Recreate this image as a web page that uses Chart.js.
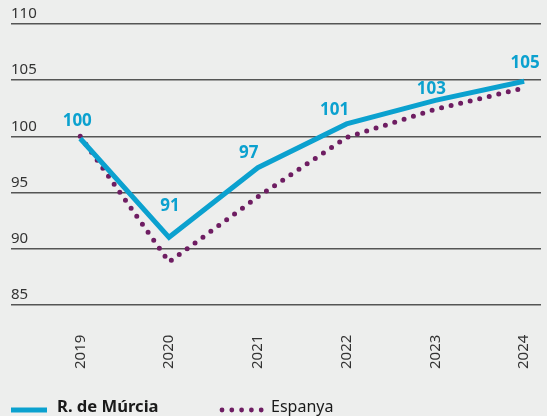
<!DOCTYPE html>
<html>
<head>
<meta charset="utf-8">
<script src="https://cdn.jsdelivr.net/npm/chart.js@4.4.1/dist/chart.umd.min.js"></script>
<style>
  html, body { margin: 0; padding: 0; background: #edeeed; }
  #wrap { position: relative; width: 547px; height: 416px; }
</style>
</head>
<body>
<div id="wrap"><canvas id="c" width="547" height="416"></canvas></div>
<script>
const years = [2019, 2020, 2021, 2022, 2023, 2024];
const murcia = [99.8, 91.0, 97.2, 101.1, 103.2, 104.9];
const espanya = [100.0, 88.8, 94.6, 99.9, 102.4, 104.3];
const murciaLabels = ['100', '91', '97', '101', '103', '105'];
const yTicks = [85, 90, 95, 100, 105, 110];

const BLUE = '#0ba1cf', PURPLE = '#6e1d62', FONT = '"Noto Sans", "Open Sans", sans-serif';

// where each value label sits relative to its point
const labelOffsets = [[-3, -17], [1, -31], [-9, -15], [-12, -14], [-4, -11], [1, -18]];

const valueLabels = {
  id: 'valueLabels',
  afterDatasetsDraw(chart) {
    const ctx = chart.ctx;
    const meta = chart.getDatasetMeta(0);
    ctx.save();
    ctx.font = 'bold 17px ' + FONT;
    ctx.fillStyle = BLUE;
    ctx.textAlign = 'center';
    ctx.textBaseline = 'middle';
    meta.data.forEach((pt, i) => {
      const [dx, dy] = labelOffsets[i];
      ctx.fillText(murciaLabels[i], pt.x + dx, pt.y + dy);
    });
    ctx.restore();
  }
};

const legendBar = {
  id: 'legendBar',
  afterDraw(chart) {
    const ctx = chart.ctx, y = 410;
    ctx.save();
    ctx.strokeStyle = BLUE; ctx.lineWidth = 5;
    ctx.beginPath(); ctx.moveTo(11, y); ctx.lineTo(47, y); ctx.stroke();
    ctx.fillStyle = '#1a1a1a'; ctx.textBaseline = 'middle';
    ctx.font = 'bold 16.6px ' + FONT;
    ctx.fillText('R. de Múrcia', 57, y - 3);
    ctx.fillStyle = PURPLE;
    for (let i = 0; i < 5; i++) { ctx.beginPath(); ctx.arc(222 + i * 9.8, y, 2.4, 0, Math.PI * 2); ctx.fill(); }
    ctx.fillStyle = '#1a1a1a';
    ctx.font = '16px ' + FONT;
    ctx.fillText('Espanya', 271, y - 3);
    ctx.restore();
  }
};

new Chart(document.getElementById('c'), {
  type: 'line',
  data: {
    datasets: [
      { label: 'R. de Múrcia', data: years.map((x, i) => ({ x, y: murcia[i] })),
        borderColor: BLUE, borderWidth: 5, pointRadius: 0, tension: 0, borderJoinStyle: 'miter' },
      { label: 'Espanya', data: years.map((x, i) => ({ x, y: espanya[i] })),
        borderColor: PURPLE, borderWidth: 5, borderDash: [0, 9.8], borderCapStyle: 'round',
        pointRadius: 0, tension: 0 }
    ]
  },
  options: {
    responsive: false, animation: false,
    layout: { padding: { left: 11, right: 6, top: 24, bottom: 25 } },
    plugins: { legend: { display: false }, tooltip: { enabled: false } },
    scales: {
      x: {
        type: 'linear', min: 2018.22, max: 2024.19,
        afterBuildTicks: s => { s.ticks = years.map(v => ({ value: v })); },
        afterFit: s => { s.paddingLeft = 0; s.paddingRight = 0; },
        grid: { display: false }, border: { display: false },
        ticks: { minRotation: 90, maxRotation: 90, padding: 22, color: '#333',
          font: { family: FONT, size: 15 }, callback: v => String(v) }
      },
      y: {
        min: 85, max: 110,
        afterBuildTicks: s => { s.ticks = yTicks.map(v => ({ value: v })); },
        afterFit: s => { s.width = 0; },
        grid: { color: '#555', lineWidth: 1.5, drawTicks: false }, border: { display: false },
        ticks: { mirror: true, padding: 0, labelOffset: -10, color: '#333',
          font: { family: FONT, size: 15 } }
      }
    }
  },
  plugins: [valueLabels, legendBar]
});
</script>
</body>
</html>
